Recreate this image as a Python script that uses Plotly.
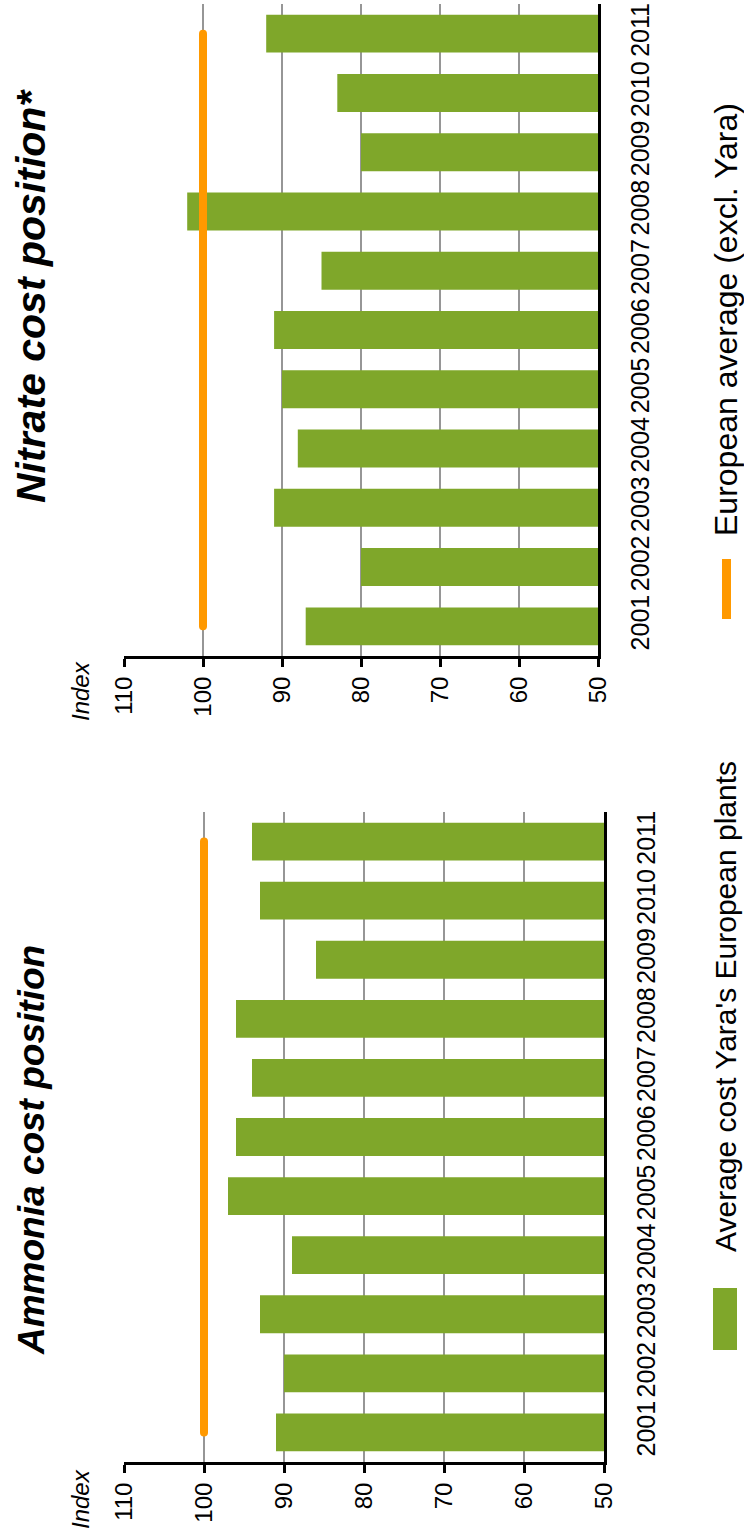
import plotly.graph_objects as go

# Index values (European average = 100)
years = ["2001", "2002", "2003", "2004", "2005", "2006", "2007", "2008", "2009", "2010", "2011"]
ammonia_yara = [91, 90, 93, 89, 97, 96, 94, 96, 86, 93, 94]
nitrate_yara = [87, 80, 91, 88, 90, 91, 85, 102, 80, 83, 92]
european_avg = [100, 100, 100, 100, 100, 100, 100, 100, 100, 100, 100]
value_ticks = [50, 60, 70, 80, 90, 100, 110]
axis_min, axis_max = 50, 110

W, H = 744, 1537
GREEN = "#7FA72A"
ORANGE = "#FF9900"
GRID = "#969696"
FONT = "Liberation Sans, Arial, sans-serif"


def px_x(p):
    return p / W


def px_y(p):
    return 1 - p / H


fig = go.Figure()

panels = [
    # (values, xaxis, yaxis)
    (ammonia_yara, "x", "y"),
    (nitrate_yara, "x2", "y2"),
]

for vals, xa, ya in panels:
    fig.add_trace(go.Bar(
        y=years, x=[v - axis_min for v in vals], base=axis_min,
        orientation="h", marker=dict(color=GREEN, line=dict(width=0)),
        width=0.64, xaxis=xa, yaxis=ya, showlegend=False,
    ))
    fig.add_trace(go.Scatter(
        y=years, x=european_avg, mode="lines+markers",
        line=dict(color=ORANGE, width=8),
        marker=dict(color=ORANGE, size=8),
        xaxis=xa, yaxis=ya, showlegend=False,
    ))

xaxis_common = dict(
    range=[axis_max, axis_min], tickvals=value_ticks,
    showgrid=True, gridcolor=GRID, gridwidth=1.5,
    showline=True, linecolor="black", linewidth=3,
    ticks="outside", ticklen=8, tickwidth=3, tickcolor="black",
    tickangle=-90, tickfont=dict(family=FONT, size=24, color="black"),
    zeroline=False, fixedrange=True, automargin=False,
)
yaxis_common = dict(
    type="category", range=[-0.5, 10.5], side="right",
    showgrid=False, showline=True, linecolor="black", linewidth=3,
    ticks="", tickangle=-90, ticklabelstandoff=18,
    tickfont=dict(family=FONT, size=25, color="black"),
    zeroline=False, fixedrange=True, automargin=False,
)

fig.update_layout(
    width=W, height=H,
    margin=dict(l=0, r=0, t=0, b=0),
    paper_bgcolor="white", plot_bgcolor="white",
    bargap=0.36,
    xaxis=dict(domain=[px_x(124), px_x(604)], anchor="y", **xaxis_common),
    yaxis=dict(domain=[px_y(1462), px_y(812)], anchor="x", **yaxis_common),
    xaxis2=dict(domain=[px_x(124), px_x(598)], anchor="y2", **xaxis_common),
    yaxis2=dict(domain=[px_y(656), px_y(4)], anchor="x2", **yaxis_common),
)

annotations = [
    dict(text="<b><i>Ammonia cost position</i></b>", x=px_x(31), y=px_y(1150),
         font=dict(family=FONT, size=37, color="black")),
    dict(text="<b><i>Nitrate cost position*</i></b>", x=px_x(31), y=px_y(296),
         font=dict(family=FONT, size=41, color="black")),
    dict(text="<i>Index</i>", x=px_x(80), y=px_y(1499),
         font=dict(family=FONT, size=24, color="black")),
    dict(text="<i>Index</i>", x=px_x(80), y=px_y(691),
         font=dict(family=FONT, size=24, color="black")),
    dict(text="Average cost Yara's European plants", x=px_x(725), y=px_y(1007),
         font=dict(family=FONT, size=30, color="black")),
    dict(text="European average (excl. Yara)", x=px_x(726), y=px_y(320),
         font=dict(family=FONT, size=32, color="black")),
]
for a in annotations:
    fig.add_annotation(xref="paper", yref="paper", showarrow=False, textangle=-90,
                       xanchor="center", yanchor="middle", **a)

# Legend swatches
fig.add_shape(type="rect", xref="paper", yref="paper",
              x0=px_x(713), x1=px_x(737), y0=px_y(1350), y1=px_y(1288),
              fillcolor=GREEN, line=dict(width=0))
fig.add_shape(type="rect", xref="paper", yref="paper",
              x0=px_x(722), x1=px_x(731), y0=px_y(619), y1=px_y(559),
              fillcolor=ORANGE, line=dict(width=0))

fig.write_html("out.html")
